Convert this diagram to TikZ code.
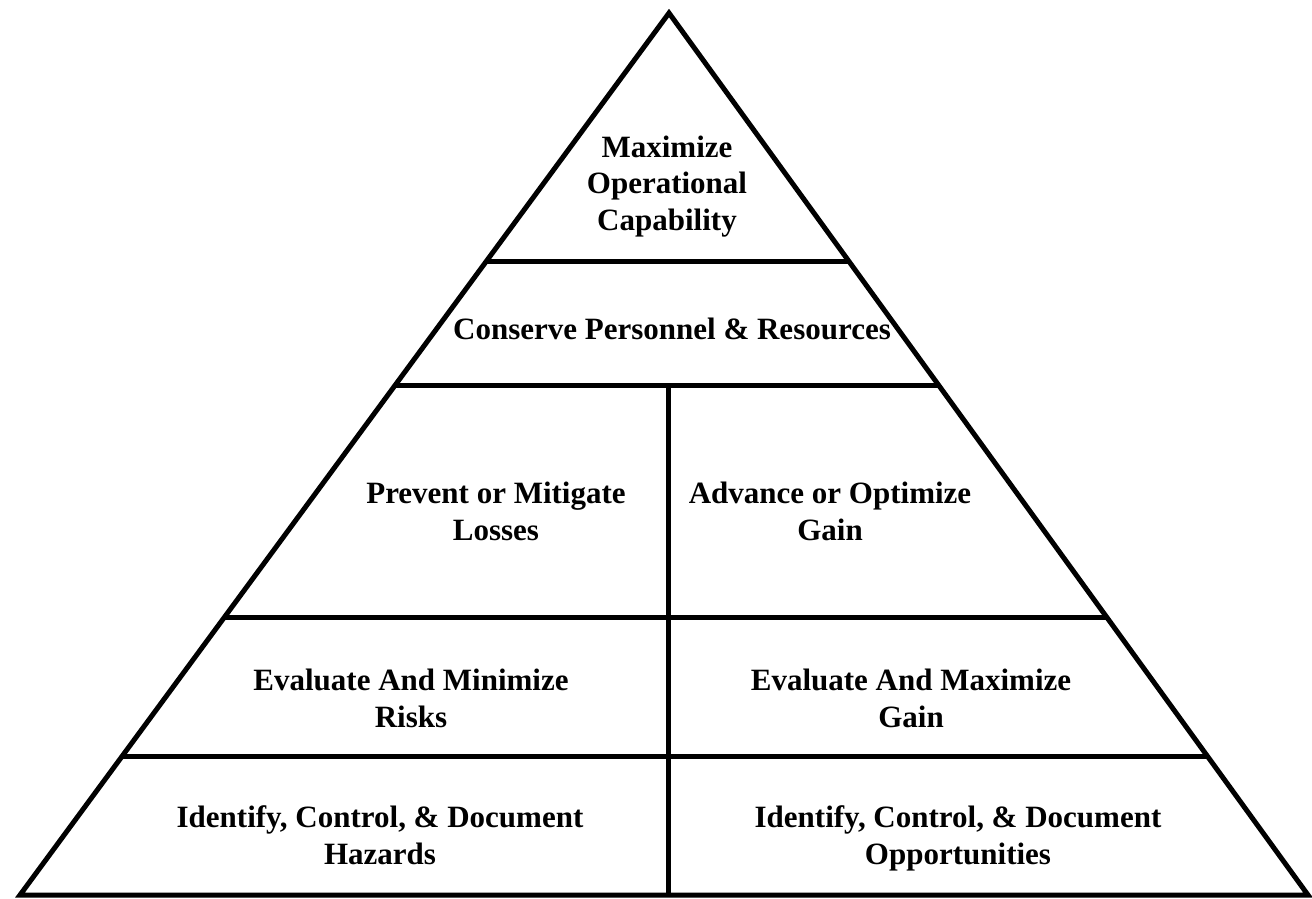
\documentclass[tikz,border=0pt]{standalone}
\usepackage{fontspec}
\setmainfont{Liberation Serif}
\usetikzlibrary{calc}
\tikzset{
  x=1pt,y=-1pt,
  edge/.style={line width=5pt,line join=miter,black},
  label/.style={font=\fontsize{31}{36.5}\selectfont\bfseries,align=center,inner sep=0pt,text=black,anchor=base}
}
\begin{document}
\begin{tikzpicture}
\useasboundingbox (0,0) rectangle (1312,898);
\coordinate (A) at (669,13);
\coordinate (L) at (20,895);
\coordinate (R) at (1308,895);
% level lines on the edges
\foreach \n/\t in {a/0.2823,b/0.4218,c/0.6848,d/0.8435}{
  \coordinate (l\n) at ($(A)!\t!(L)$);
  \coordinate (r\n) at ($(A)!\t!(R)$);
}
\coordinate (vtop) at (668,386);
\coordinate (vbot) at (vtop |- L);
\draw[edge] (A) -- (L) -- (R) -- cycle;
\draw[edge] (la) -- (ra);
\draw[edge] (lb) -- (rb);
\draw[edge] (lc) -- (rc);
\draw[edge] (ld) -- (rd);
\draw[edge] (vtop) -- (vbot);
% base anchor = baseline of the last line
\node[label] (t1) at (667,230) {Maximize\\Operational\\Capability};
\node[label] (t2) at (672,339) {Conserve Personnel \& Resources};
\node[label] (t3) at (496,540) {Prevent or Mitigate\\Losses};
\node[label] (t4) at (830,540) {Advance or Optimize\\Gain};
\node[label] (t5) at (411,727) {Evaluate And Minimize\\Risks};
\node[label] (t6) at (911,727) {Evaluate And Maximize\\Gain};
\node[label] (t7) at (380,864) {Identify, Control, \& Document\\Hazards};
\node[label] (t8) at (958,864) {Identify, Control, \& Document\\Opportunities};
\end{tikzpicture}
\end{document}
